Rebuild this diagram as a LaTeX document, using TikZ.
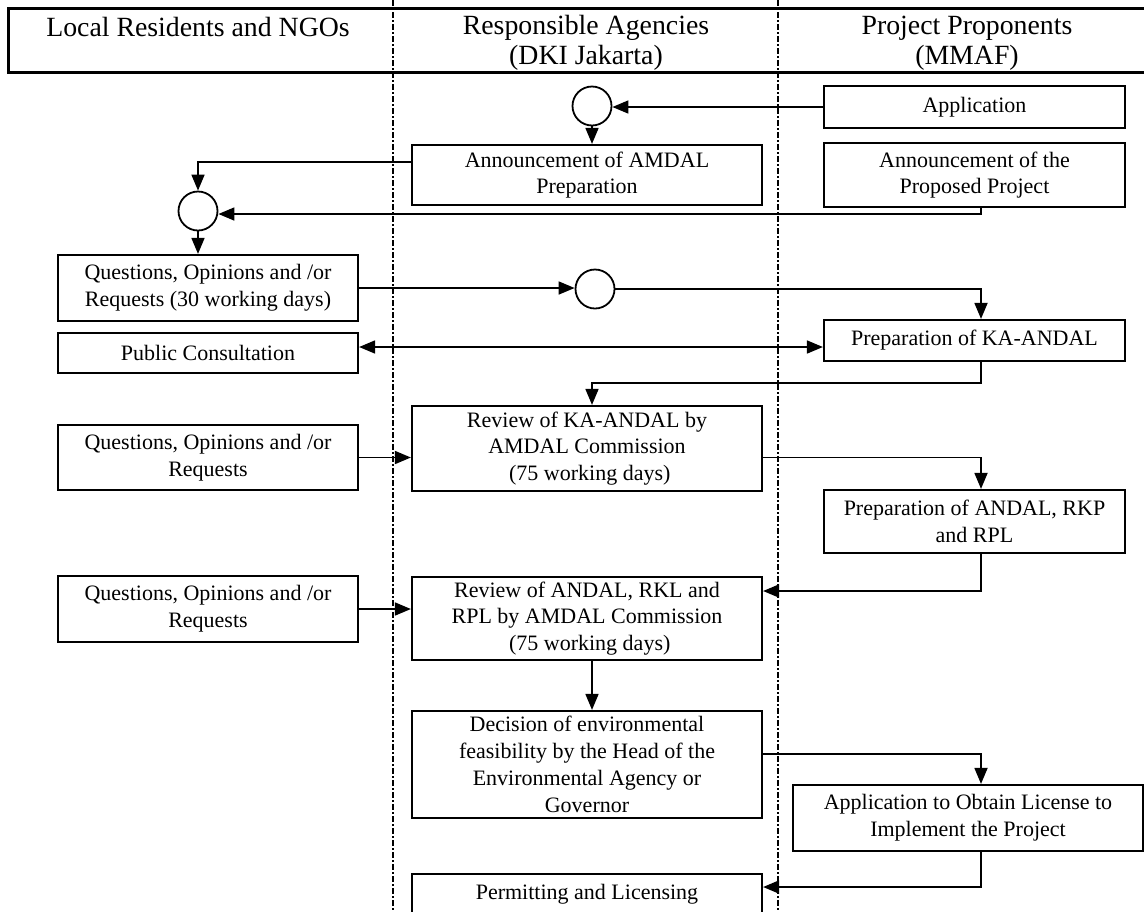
\documentclass[tikz,border=0pt]{standalone}
\usepackage{fontspec}
\setmainfont{Liberation Serif}
\usetikzlibrary{arrows.meta,calc,shapes.geometric}
\begin{document}
\begin{tikzpicture}[x=0.5pt,y=-0.5pt,
  box/.style={draw,line width=1.1pt,align=center,inner sep=0pt,
    font=\fontsize{11}{13.4}\selectfont},
  hdr/.style={align=center,inner sep=0pt,font=\fontsize{13.9}{15}\selectfont},
  circ/.style={draw,line width=0.9pt,circle,minimum size=19.5pt,inner sep=0pt},
  arr/.style={line width=0.85pt,-{Triangle[length=8pt,width=6.5pt]}},
  darr/.style={line width=0.85pt,{Triangle[length=8pt,width=6.5pt]}-{Triangle[length=8pt,width=6.5pt]}},
  lane/.style={line width=0.7pt,dash pattern=on 3pt off 1pt on 1pt off 1pt},
  hline/.style={line width=1.5pt}]
\useasboundingbox (0,0) rectangle (1144,911);
% lanes
\coordinate (l1t) at (393,0); \coordinate (l1b) at (393,911);
\coordinate (l2t) at (778,0); \coordinate (l2b) at (778,911);
\draw[lane] (l1t) -- (l1b);
\draw[lane] (l2t) -- (l2b);
% header
\coordinate (h1) at (1150,8); \coordinate (h2) at (8,8);
\coordinate (h3) at (8,72); \coordinate (h4) at (1150,72);
\draw[hline] (h1) -- (h2) -- (h3) -- (h4);
\node[hdr] (hL) at (198,27) {Local Residents and NGOs};
\node[hdr] (hM) at (586,43) {Responsible Agencies\\(DKI Jakarta)};
\node[hdr] (hR) at (967,43) {Project Proponents\\(MMAF)};
% column guides
\coordinate (xm) at (592,0);
\coordinate (xr) at (981,0);
% nodes
\node[box,minimum width=150.5pt,minimum height=21pt] (app) at (974.5,107) {Application};
\node[circ] (c1) at (592,106) {};
\node[box,minimum width=175pt,minimum height=30pt] (annA) at (587,175) {Announcement of AMDAL\\Preparation};
\node[box,minimum width=150.5pt,minimum height=32pt] (annP) at (974.5,175) {Announcement of the\\Proposed Project};
\node[circ] (c2) at (198,211) {};
\node[box,minimum width=150pt,minimum height=33pt] (q1) at (208,288) {Questions, Opinions and /or\\Requests (30 working days)};
\node[circ] (c3) at (595,289) {};
\node[box,minimum width=150.5pt,minimum height=20.5pt] (ka) at (974.5,340.5) {Preparation of KA-ANDAL};
\node[box,minimum width=150pt,minimum height=20pt] (pc) at (208,353) {Public Consultation};
\node[box,minimum width=175pt,minimum height=42.5pt] (rev1) at (587,448.5) {Review of KA-ANDAL by\\AMDAL Commission\\\ (75 working days)};
\node[box,minimum width=150pt,minimum height=32.5pt] (q2) at (208,457.5) {Questions, Opinions and /or\\Requests};
\node[box,minimum width=150.5pt,minimum height=31.5pt] (pa) at (974.5,521.5) {Preparation of ANDAL, RKP\\and RPL};
\node[box,minimum width=175pt,minimum height=41.5pt] (rev2) at (587,618.5) {Review of ANDAL, RKL and\\RPL by AMDAL Commission\\\ (75 working days)};
\node[box,minimum width=150pt,minimum height=33pt] (q3) at (208,609) {Questions, Opinions and /or\\Requests};
\node[box,minimum width=175pt,minimum height=53.5pt] (dec) at (587,764.5) {Decision of environmental\\feasibility by the Head of the\\Environmental Agency or\\Governor};
\node[box,minimum width=175pt,minimum height=33pt] (lic) at (968,818) {Application to Obtain License to\\Implement the Project};
\node[box,minimum width=175pt,minimum height=20pt] (perm) at (587,894) {Permitting and Licensing};
% connectors
\coordinate (k1) at (981,383);
\draw[arr] (app.west) -- (app.west -| c1.east);
\draw[arr] (c1.south) -- (c1.south |- annA.north);
\draw[arr] ([yshift=6.5pt]annA.west) -| (c2.north);
\draw[arr] (annP.south -| xr) |- ([yshift=-1.5pt]c2.east);
\draw[arr] (c2.south) -- (c2.south |- q1.north);
\draw[arr] (q1.east) -- (q1.east -| c3.west);
\draw[arr] (c3.east) -| (ka.north -| xr);
\draw[darr] ([yshift=3pt]pc.east) -- ([yshift=3pt]pc.east -| ka.west);
\draw[arr] (ka.south -| xr) -- (k1) -| (rev1.north -| xm);
\draw[arr] (q2.east) -- (q2.east -| rev1.west);
\draw[arr] (q2.east -| rev1.east) -| (pa.north -| xr);
\draw[arr] (pa.south -| xr) |- ([yshift=13.75pt]rev2.east);
\draw[arr] (q3.east) -- (q3.east -| rev2.west);
\draw[arr] (rev2.south -| xm) -- (dec.north -| xm);
\draw[arr] ([yshift=5.25pt]dec.east) -| (lic.north -| xr);
\draw[arr] (lic.south -| xr) |- ([yshift=3.5pt]perm.east);
\end{tikzpicture}
\end{document}
